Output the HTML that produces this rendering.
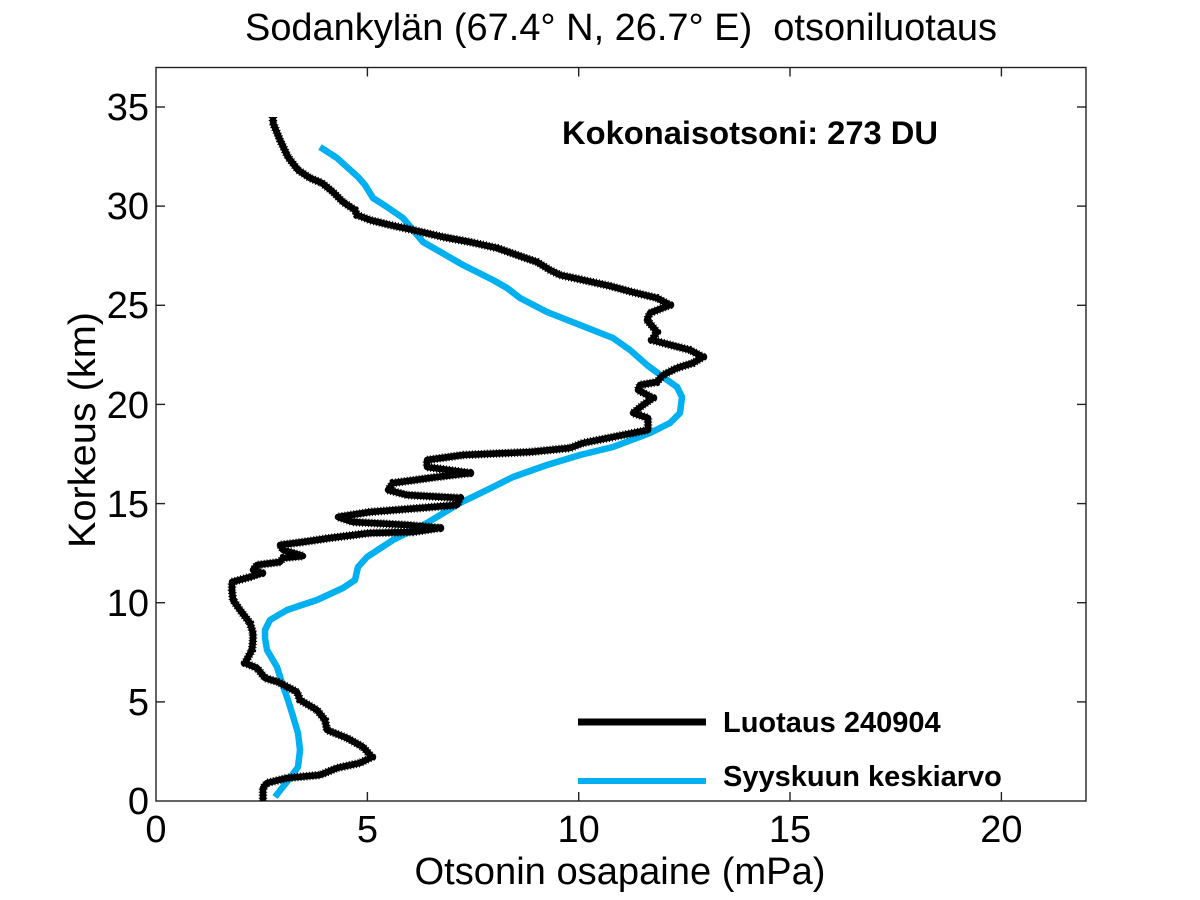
<!DOCTYPE html>
<html>
<head>
<meta charset="utf-8">
<style>
html,body{margin:0;padding:0;background:#fff;}
svg{display:block;}
text{font-family:"Liberation Sans",Arial,sans-serif;fill:#000;}
</style>
</head>
<body>
<svg width="1200" height="900" viewBox="0 0 1200 900" xmlns="http://www.w3.org/2000/svg">
<rect width="1200" height="900" fill="#fff"/>

<!-- Title -->
<text x="621" y="40" font-size="38" text-anchor="middle" textLength="752" lengthAdjust="spacingAndGlyphs">Sodankylän (67.4° N, 26.7° E)&#160; otsoniluotaus</text>

<!-- Axes box -->
<rect x="156" y="67.5" width="930" height="733.5" fill="none" stroke="#222" stroke-width="1.4"/>

<!-- X ticks -->
<g stroke="#222" stroke-width="1.4">
  <line x1="367.4" y1="801" x2="367.4" y2="792"/>
  <line x1="578.7" y1="801" x2="578.7" y2="792"/>
  <line x1="790" y1="801" x2="790" y2="792"/>
  <line x1="1001.4" y1="801" x2="1001.4" y2="792"/>
  <line x1="367.4" y1="67.5" x2="367.4" y2="76.5"/>
  <line x1="578.7" y1="67.5" x2="578.7" y2="76.5"/>
  <line x1="790" y1="67.5" x2="790" y2="76.5"/>
  <line x1="1001.4" y1="67.5" x2="1001.4" y2="76.5"/>
  <!-- Y ticks -->
  <line x1="156" y1="701.9" x2="165" y2="701.9"/>
  <line x1="156" y1="602.7" x2="165" y2="602.7"/>
  <line x1="156" y1="503.6" x2="165" y2="503.6"/>
  <line x1="156" y1="404.4" x2="165" y2="404.4"/>
  <line x1="156" y1="305.3" x2="165" y2="305.3"/>
  <line x1="156" y1="206.1" x2="165" y2="206.1"/>
  <line x1="156" y1="107" x2="165" y2="107"/>
  <line x1="1086" y1="701.9" x2="1077" y2="701.9"/>
  <line x1="1086" y1="602.7" x2="1077" y2="602.7"/>
  <line x1="1086" y1="503.6" x2="1077" y2="503.6"/>
  <line x1="1086" y1="404.4" x2="1077" y2="404.4"/>
  <line x1="1086" y1="305.3" x2="1077" y2="305.3"/>
  <line x1="1086" y1="206.1" x2="1077" y2="206.1"/>
  <line x1="1086" y1="107" x2="1077" y2="107"/>
</g>

<!-- X tick labels -->
<g font-size="38" text-anchor="middle">
  <text x="156" y="842">0</text>
  <text x="367.4" y="842">5</text>
  <text x="578.7" y="842">10</text>
  <text x="790" y="842">15</text>
  <text x="1001.4" y="842">20</text>
</g>
<!-- Y tick labels -->
<g font-size="38" text-anchor="end">
  <text x="149" y="814">0</text>
  <text x="149" y="715">5</text>
  <text x="149" y="616">10</text>
  <text x="149" y="517">15</text>
  <text x="149" y="418">20</text>
  <text x="149" y="318">25</text>
  <text x="149" y="219">30</text>
  <text x="149" y="120">35</text>
</g>

<!-- Axis labels -->
<text x="620" y="884" font-size="38" text-anchor="middle" textLength="411" lengthAdjust="spacingAndGlyphs">Otsonin osapaine (mPa)</text>
<text transform="translate(95,430) rotate(-90)" font-size="38" text-anchor="middle" textLength="236" lengthAdjust="spacingAndGlyphs">Korkeus (km)</text>

<!-- Total ozone annotation -->
<text x="562" y="144" font-size="32" font-weight="bold" textLength="376" lengthAdjust="spacingAndGlyphs">Kokonaisotsoni: 273 DU</text>

<!-- Blue monthly mean curve -->
<polyline fill="none" stroke="#00b0f0" stroke-width="6.5" stroke-linejoin="round" stroke-linecap="butt"
points="320,147 337,158 358,177 365,185 373,198 387,207 403,218 413,230 423,242 437,250 463,265 493,280 507,288 520,298 547,312 580,325 613,338 630,350 647,365 663,377 677,387 682,397 680,413 670,423 650,433 613,447 580,455 547,465 513,477 487,490 460,503 427,523 393,540 367,557 358,567 355,580 343,588 317,600 287,610 270,620 265,630 265,638 267,650 277,667 282,683 288,700 292,713 298,733 300,750 298,767 290,778 282,788 275,797"/>

<!-- Black sounding curve -->
<polyline fill="none" stroke="#000" stroke-width="6.5" stroke-linejoin="round" stroke-linecap="butt"
points="273,117 273,123 280,140 288,157 298,170 310,178 322,183 333,192 343,202 355,210 357,215 370,220 390,225 413,230 443,237 470,242 497,248 517,255 537,262 550,270 560,275 583,280 610,286 632,292 657,298 670,305 650,313 647,320 657,332 652,340 663,343 690,350 703,357 693,363 677,368 663,375 657,382 640,385 638,390 653,398 643,405 633,413 648,418 648,430 613,437 583,443 570,448 530,452 463,455 427,460 427,467 470,473 437,477 393,483 388,490 407,495 460,498 457,505 420,508 370,512 338,517 353,522 407,525 440,528 413,532 370,533 330,538 303,542 280,545 283,550 303,556 283,558 280,562 257,565 253,570 262,573 250,577 232,582 232,590 233,600 240,610 250,623 253,633 253,640 252,650 245,663 257,668 265,678 278,682 297,692 300,700 317,710 325,720 327,730 347,738 363,747 372,757 360,763 337,768 320,775 287,778 267,783 263,788 263,797 263,801"/>
<!-- fuzzy edge effect -->
<polyline fill="none" stroke="#000" stroke-width="8.5" stroke-dasharray="1 2" stroke-linejoin="round"
points="273,117 273,123 280,140 288,157 298,170 310,178 322,183 333,192 343,202 355,210 357,215 370,220 390,225 413,230 443,237 470,242 497,248 517,255 537,262 550,270 560,275 583,280 610,286 632,292 657,298 670,305 650,313 647,320 657,332 652,340 663,343 690,350 703,357 693,363 677,368 663,375 657,382 640,385 638,390 653,398 643,405 633,413 648,418 648,430 613,437 583,443 570,448 530,452 463,455 427,460 427,467 470,473 437,477 393,483 388,490 407,495 460,498 457,505 420,508 370,512 338,517 353,522 407,525 440,528 413,532 370,533 330,538 303,542 280,545 283,550 303,556 283,558 280,562 257,565 253,570 262,573 250,577 232,582 232,590 233,600 240,610 250,623 253,633 253,640 252,650 245,663 257,668 265,678 278,682 297,692 300,700 317,710 325,720 327,730 347,738 363,747 372,757 360,763 337,768 320,775 287,778 267,783 263,788 263,797 263,801"/>

<!-- Legend -->
<line x1="578" y1="722" x2="706" y2="722" stroke="#000" stroke-width="7"/>
<text x="723" y="732" font-size="29" font-weight="bold">Luotaus 240904</text>
<line x1="578" y1="781" x2="706" y2="781" stroke="#00b0f0" stroke-width="6"/>
<text x="723" y="786" font-size="29" font-weight="bold">Syyskuun keskiarvo</text>
</svg>
</body>
</html>
